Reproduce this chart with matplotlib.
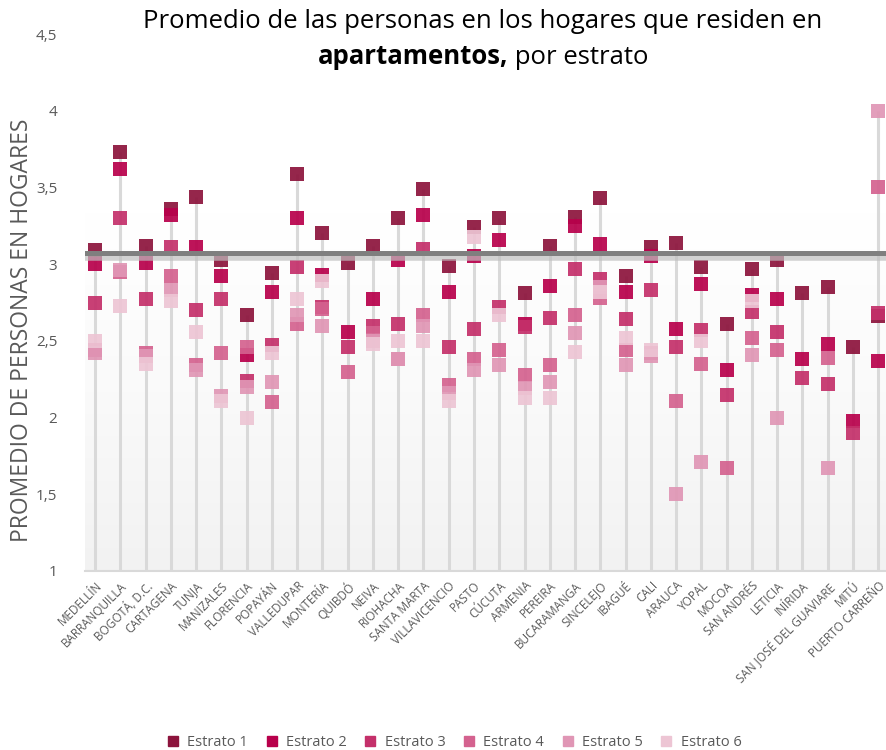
import matplotlib.pyplot as plt
import numpy as np

plt.rcParams['font.family'] = ['Open Sans', 'DejaVu Sans']

ciudades = ["MEDELLÍN", "BARRANQUILLA", "BOGOTÁ, D.C.", "CARTAGENA", "TUNJA", "MANIZALES",
            "FLORENCIA", "POPAYÁN", "VALLEDUPAR", "MONTERÍA", "QUIBDÓ", "NEIVA", "RIOHACHA",
            "SANTA MARTA", "VILLAVICENCIO", "PASTO", "CÚCUTA", "ARMENIA", "PEREIRA",
            "BUCARAMANGA", "SINCELEJO", "IBAGUÉ", "CALI", "ARAUCA", "YOPAL", "MOCOA",
            "SAN ANDRÉS", "LETICIA", "INÍRIDA", "SAN JOSÉ DEL GUAVIARE", "MITÚ", "PUERTO CARREÑO"]

nan = np.nan
estrato1 = [3.09, 3.73, 3.12, 3.36, 3.44, 3.03, 2.67, 2.94, 3.59, 3.20, 3.01, 3.12, 3.30, 3.49, 2.99, 3.24,
            3.30, 2.81, 3.12, 3.31, 3.43, 2.92, 3.11, 3.14, 2.98, 2.61, 2.97, 3.03, 2.81, 2.85, 2.46, 2.66]
estrato2 = [3.00, 3.62, 3.01, 3.32, 3.11, 2.92, 2.41, 2.82, 3.30, 2.93, 2.56, 2.77, 3.03, 3.32, 2.82, 3.05,
            3.16, 2.61, 2.86, 3.25, 3.13, 2.82, 3.05, 2.58, 2.87, 2.31, 2.80, 2.77, 2.38, 2.48, 1.98, 2.37]
estrato3 = [2.75, 3.30, 2.77, 3.11, 2.70, 2.77, 2.24, 2.47, 2.98, 2.72, 2.46, 2.60, 2.61, 3.10, 2.46, 2.58,
            2.72, 2.59, 2.65, 2.97, 2.90, 2.64, 2.83, 2.46, 2.57, 2.15, 2.69, 2.56, 2.26, 2.22, 1.90, 2.68]
estrato4 = [2.44, 2.95, 2.42, 2.92, 2.34, 2.42, 2.46, 2.10, 2.61, 2.71, 2.30, 2.55, 2.38, 2.67, 2.21, 2.38,
            2.44, 2.28, 2.34, 2.67, 2.78, 2.44, 2.42, 2.11, 2.35, 1.67, 2.52, 2.44, nan, 2.39, nan, 3.50]
estrato5 = [2.42, 2.96, 2.40, 2.83, 2.31, 2.14, 2.20, 2.23, 2.67, 2.60, nan, 2.50, 2.38, 2.60, 2.16, 2.31,
            2.34, 2.19, 2.23, 2.55, 2.85, 2.34, 2.40, 1.50, 1.71, nan, 2.41, 2.00, nan, 1.67, nan, 4.00]
estrato6 = [2.50, 2.73, 2.35, 2.76, 2.56, 2.11, 2.00, 2.42, 2.77, 2.89, nan, 2.48, 2.50, 2.50, 2.11, 3.18,
            2.67, 2.13, 2.13, 2.43, 2.82, 2.52, 2.44, nan, 2.50, nan, 2.76, nan, nan, nan, nan, nan]
promedio_total = 3.07

series = [estrato1, estrato2, estrato3, estrato4, estrato5, estrato6]
nombres = ["Estrato 1", "Estrato 2", "Estrato 3", "Estrato 4", "Estrato 5", "Estrato 6"]
colores = ["#8c133c", "#b8004b", "#c4306a", "#d4628f", "#e096b5", "#edc5d4"]

fig = plt.figure(figsize=(8.87, 7.5), dpi=100)
ax = fig.add_axes([85 / 887, 179 / 750, 802 / 887, 537 / 750])

x = np.arange(len(ciudades))
ax.set_xlim(-0.4, 31.35)
ax.set_ylim(1, 4.5)

# fondo degradado
grad = np.linspace(0, 1, 256).reshape(-1, 1)
cmap = plt.matplotlib.colors.LinearSegmentedColormap.from_list("g", ["#f2f2f2", "#fafafa", "#ffffff", "#ffffff"])
ax.imshow(grad, aspect="auto", cmap=cmap, extent=[-0.4, 31.35, 1, 4.5], origin="lower", zorder=0)

# lineas verticales
maximos = np.nanmax(np.array(series), axis=0)
ax.vlines(x, 1, maximos, color="#d9d9d9", lw=2.2, zorder=1)

for vals, nom, col in zip(series, nombres, colores):
    ax.scatter(x, vals, marker="s", s=100, color=col, alpha=0.92, linewidths=0, label=nom, zorder=3)

ax.axhline(promedio_total - 0.033, color="#bfbfbf", lw=4, alpha=0.7, zorder=4)
ax.axhline(promedio_total, color="#7f7f7f", lw=3.6, zorder=5)

for s in ["top", "right", "left"]:
    ax.spines[s].set_visible(False)
ax.spines["bottom"].set_color("#d9d9d9")
ax.spines["bottom"].set_linewidth(1.5)

ax.set_yticks([1, 1.5, 2, 2.5, 3, 3.5, 4, 4.5])
ax.set_yticklabels(["1", "1,5", "2", "2,5", "3", "3,5", "4", "4,5"], color="#595959", fontsize=11)
ax.tick_params(axis="y", length=0, pad=20)
ax.set_xticks(x)
ax.set_xticklabels(ciudades, rotation=45, ha="right", rotation_mode="anchor", color="#595959", fontsize=8.5)
ax.tick_params(axis="x", length=0, pad=6)

fig.text(22 / 887, 1 - 330 / 750, "PROMEDIO DE PERSONAS EN HOGARES", rotation=90,
         ha="center", va="center", color="#595959", fontsize=16.5)

# titulo
fig.text(483 / 887, 1 - 22 / 750, "Promedio de las personas en los hogares que residen en",
         ha="center", va="center", fontsize=18.5, color="#000000")
fig.canvas.draw()
r = fig.canvas.get_renderer()
t1 = fig.text(0, 1 - 57 / 750, "apartamentos,", ha="left", va="center", fontsize=18.5, fontweight="bold")
t2 = fig.text(0, 1 - 57 / 750, " por estrato", ha="left", va="center", fontsize=18.5)
w1 = t1.get_window_extent(r).width / fig.bbox.width
w2 = t2.get_window_extent(r).width / fig.bbox.width
x0 = 483 / 887 - (w1 + w2) / 2
t1.set_x(x0)
t2.set_x(x0 + w1)

handles = [plt.Line2D([], [], marker="s", ls="", color=c, markersize=7) for c in colores]
fig.legend(handles, nombres, loc="center", bbox_to_anchor=(450 / 887, 1 - 743 / 750), ncol=6,
           frameon=False, fontsize=10.5, labelcolor="#595959", handletextpad=0.0, columnspacing=0.6)

fig.savefig("out.png", dpi=100)
